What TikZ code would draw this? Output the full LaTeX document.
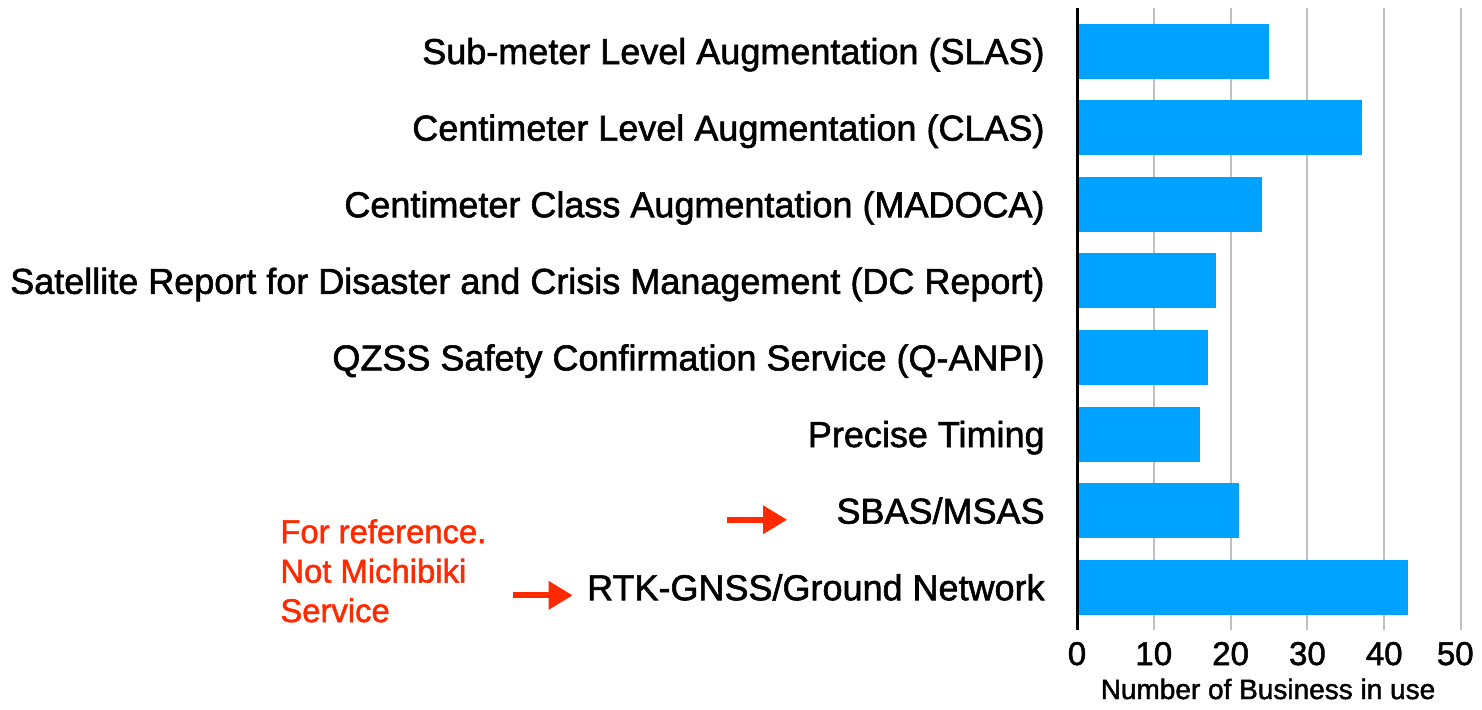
\documentclass[tikz,border=0pt]{standalone}
\usepackage{fontspec}
\setmainfont{Liberation Sans}[BoldFont={Liberation Sans}, BoldFeatures={FakeBold=1.6}]
\usetikzlibrary{arrows.meta,positioning}
\definecolor{cbar}{HTML}{00A2FF}
\definecolor{cnote}{HTML}{FF2A00}
\definecolor{cgrid}{HTML}{C0C0C0}

\begin{document}
\begin{tikzpicture}[x=0.5pt, y=-0.5pt,
    bar/.style={fill=cbar, draw=none, inner sep=0pt, minimum height=27.5pt, anchor=west, minimum width=#1*3.84pt},
    cat/.style={inner sep=0pt, font=\fontsize{18}{21}\selectfont\bfseries},
    tk/.style={inner sep=0pt, font=\fontsize{16.5}{19}\selectfont\bfseries},
    note/.style={inner sep=0pt, align=left, text=cnote, font=\fontsize{16.4}{19.75}\selectfont\bfseries},
    pt/.style={-{Triangle[length=12pt, width=13.5pt]}, cnote, line width=3pt}]
  \useasboundingbox (0,0) rectangle (1482,709);
  % grid
  \foreach \v in {10,20,...,50}
    \draw[cgrid, line width=1pt] (1077+7.68*\v,8) -- (1077+7.68*\v,630);

  % bars
  \node[bar=25] (bS) at (1077,51) {};
  \node[bar=37] (bC) at (1077,127.6) {};
  \node[bar=24] (bM) at (1077,204.2) {};
  \node[bar=18] (bD) at (1077,280.8) {};
  \node[bar=17] (bQ) at (1077,357.4) {};
  \node[bar=16] (bT) at (1077,434) {};
  \node[bar=21] (bB) at (1077,510.6) {};
  \node[bar=43] (bR) at (1077,587.2) {};
  \draw[line width=1.5pt] (1077,8) -- (1077,630);

  % category names
  \node[cat, base left=16pt of bS.west, yshift=-6.5pt] (lS) {Sub-meter Level Augmentation (SLAS)};
  \node[cat, base left=16pt of bC.west, yshift=-6.5pt] (lC) {Centimeter Level Augmentation (CLAS)};
  \node[cat, base left=16pt of bM.west, yshift=-6.5pt] (lM) {Centimeter Class Augmentation (MADOCA)};
  \node[cat, base left=16pt of bD.west, yshift=-6.5pt] (lD) {Satellite Report for Disaster and Crisis Management (DC Report)};
  \node[cat, base left=16pt of bQ.west, yshift=-6.5pt] (lQ) {QZSS Safety Confirmation Service (Q-ANPI)};
  \node[cat, base left=16pt of bT.west, yshift=-6.5pt] (lT) {Precise Timing};
  \node[cat, base left=16pt of bB.west, yshift=-6.5pt] (lB) {SBAS/MSAS};
  \node[cat, base left=16pt of bR.west, yshift=-6.5pt] (lR) {RTK-GNSS/Ground Network};

  % axis numbers
  \foreach \v in {0,10,...,40}
    \node[tk, anchor=base] (t\v) at (1077+7.68*\v,665) {\v};
  \node[tk, anchor=base east] (t50) at (1474,665) {50};
  \node[inner sep=0pt, anchor=base, font=\fontsize{14}{17}\selectfont\bfseries] (xl) at (1268,699) {Number of Business in use};

  % note
  \node[note, anchor=base west] (nt) at (280,622) {For reference.\\Not Michibiki\\Service};
  \draw[pt] ([shift={(-54.5pt,-4.5pt)}]lB.west) -- ([shift={(-24.5pt,-4.5pt)}]lB.west);
  \draw[pt] ([shift={(-37pt,-4pt)}]lR.west) -- ([shift={(-7pt,-4pt)}]lR.west);
\end{tikzpicture}
\end{document}
